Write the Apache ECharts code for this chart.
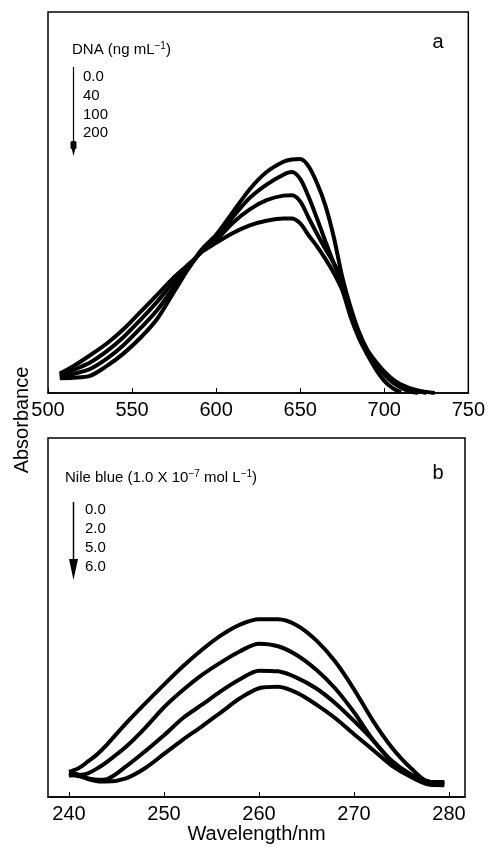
<!DOCTYPE html>
<html><head><meta charset="utf-8">
<script src="https://cdn.jsdelivr.net/npm/echarts@6/dist/echarts.min.js"></script>
<style>html,body{margin:0;padding:0;background:#fff}#c{width:488px;height:847px}</style>
</head><body><div id="c"></div>
<script>
// ---- Panel a: visible spectra vs DNA concentration ----
const wavelengthA = [507,515,525,535,545,555,565,575,585,592,600,610,620,630,640,645,650,655,660,665,670,675,680,685,690,695,700,705,710,715,720,725,730];
const dna0   = [.039,.040,.045,.071,.104,.145,.195,.266,.337,.380,.415,.475,.535,.580,.607,.613,.614,.595,.551,.492,.409,.305,.225,.160,.113,.082,.056,.036,.022,.013,.007,.003,0];
const dna40  = [.042,.050,.063,.090,.126,.170,.218,.278,.336,.376,.408,.462,.512,.547,.573,.580,.562,.515,.458,.398,.340,.288,.212,.150,.110,.080,.056,.035,.020,.011,.005,0,null];
const dna100 = [.046,.060,.080,.110,.147,.192,.240,.292,.340,.374,.401,.447,.482,.506,.518,.519,.503,.460,.418,.378,.341,.294,.205,.150,.108,.075,.048,.028,.014,.005,0,null,null];
const dna200 = [.051,.070,.099,.130,.168,.213,.258,.304,.343,.372,.394,.420,.440,.452,.458,.458,.445,.414,.385,.352,.315,.270,.200,.143,.100,.062,.032,.013,.002,null,null,null,null];
const dnaLabels = ['0.0','40','100','200'];
const ticksA = [500,550,600,650,700,750];

// ---- Panel b: UV spectra vs Nile blue concentration ----
const wavelengthB = [240,241,242,243,244,246,248,250,252,254,256,258,260,262,264,266,268,270,272,274,276,278,279.5];
const nb0 = [.070,.080,.099,.120,.146,.205,.260,.313,.364,.410,.450,.480,.495,.495,.478,.437,.378,.300,.212,.137,.080,.042,.042];
const nb2 = [.060,.061,.066,.080,.098,.140,.192,.250,.298,.340,.375,.406,.427,.420,.395,.355,.303,.236,.159,.100,.063,.042,.038];
const nb5 = [.066,.058,.052,.048,.050,.085,.127,.172,.220,.257,.295,.328,.352,.350,.332,.303,.262,.212,.158,.098,.060,.042,.038];
const nb6 = [.068,.062,.050,.044,.043,.052,.080,.120,.160,.197,.236,.275,.303,.307,.290,.258,.220,.175,.131,.087,.056,.034,.033];
const nbLabels = ['0.0','2.0','5.0','6.0'];
const ticksB = [240,250,260,270,280];

const FF = '"Liberation Sans", Arial, Helvetica, sans-serif';
const chart = echarts.init(document.getElementById('c'), null, {renderer:'canvas'});

function zip(xs, ys){ return xs.map((x,i)=>[x, ys[i]]); }
function mkSeries(xs, ys, idx){
  return {type:'line', xAxisIndex:idx, yAxisIndex:idx, data:zip(xs,ys), showSymbol:false,
    smooth:0.3, connectNulls:false, lineStyle:{color:'#000', width:4}, itemStyle:{color:'#000'}, silent:true};
}
const series = [];
[dna0,dna40,dna100,dna200].forEach(d=>series.push(mkSeries(wavelengthA,d,0)));
[nb0,nb2,nb5,nb6].forEach(d=>series.push(mkSeries(wavelengthB,d,1)));

const axisCommon = {
  type:'value',
  axisLine:{show:true, lineStyle:{color:'#000', width:1.5}},
  axisTick:{show:true, inside:true, length:5, lineStyle:{color:'#000', width:1}},
  axisLabel:{color:'#000', fontSize:20, fontFamily:FF, margin:7},
  splitLine:{show:false}
};

const graphic = [];
function txt(x,y,text,size,align){
  graphic.push({type:'text', x:x, y:y, style:{text:text, fontSize:size, fontFamily:FF, fill:'#000',
    textAlign:align||'left', textVerticalAlign:'middle'}});
}
txt(438,42,'a',20,'center');
txt(438,473,'b',20,'center');
graphic.push({type:'text', x:22, y:420, rotation:Math.PI/2, style:{text:'Absorbance', fontSize:20, fontFamily:FF, fill:'#000', textAlign:'center', textVerticalAlign:'middle'}});

const rich = {n:{fontSize:15, fontFamily:FF, fill:'#000'}, s:{fontSize:10, fontFamily:FF, fill:'#000', padding:[0,0,8,0]}};
graphic.push({type:'text', x:72, y:50, style:{text:'{n|DNA (ng mL}{s|\u22121}{n|)}', rich:rich, textVerticalAlign:'middle'}});
graphic.push({type:'text', x:65, y:478, style:{text:'{n|Nile blue (1.0 X 10}{s|\u22127}{n| mol L}{s|\u22121}{n|)}', rich:rich, textVerticalAlign:'middle'}});

dnaLabels.forEach((t,i)=>txt(83, 77 + i*18.7, t, 15, 'left'));
nbLabels.forEach((t,i)=>txt(85, 510 + i*19, t, 15, 'left'));

// arrow a
graphic.push({type:'line', shape:{x1:73.5,y1:67,x2:73.5,y2:146}, style:{stroke:'#000', lineWidth:1.2}});
graphic.push({type:'rect', shape:{x:70.5,y:141,width:6,height:8,r:1.5}, style:{fill:'#000'}});
graphic.push({type:'polygon', shape:{points:[[71.5,148],[75.5,148],[73.5,156]]}, style:{fill:'#000'}});
// arrow b
graphic.push({type:'line', shape:{x1:73.5,y1:502,x2:73.5,y2:565}, style:{stroke:'#000', lineWidth:1.5}});
graphic.push({type:'polygon', shape:{points:[[69,559],[78,559],[73.5,580]]}, style:{fill:'#000'}});

chart.setOption({
  animation:false,
  backgroundColor:'#fff',
  grid:[
    {left:48, top:12, width:425, height:381, show:true, borderColor:'#000', borderWidth:1.5, backgroundColor:'transparent'},
    {left:48, top:438, width:417, height:359, show:true, borderColor:'#000', borderWidth:1.5, backgroundColor:'transparent'}
  ],
  xAxis:[
    Object.assign({}, axisCommon, {gridIndex:0, min:500, max:750, interval:50}),
    Object.assign({}, axisCommon, {gridIndex:1, min:237.79, max:281.68,
      axisTick:Object.assign({}, axisCommon.axisTick, {customValues:ticksB}),
      axisLabel:Object.assign({}, axisCommon.axisLabel, {customValues:ticksB}),
      name:'Wavelength/nm', nameLocation:'middle', nameGap:27,
      nameTextStyle:{color:'#000', fontSize:20, fontFamily:FF}})
  ],
  yAxis:[
    {gridIndex:0, type:'value', min:0, max:1, show:false},
    {gridIndex:1, type:'value', min:0, max:1, show:false}
  ],
  series:series,
  graphic:graphic
});
</script></body></html>
